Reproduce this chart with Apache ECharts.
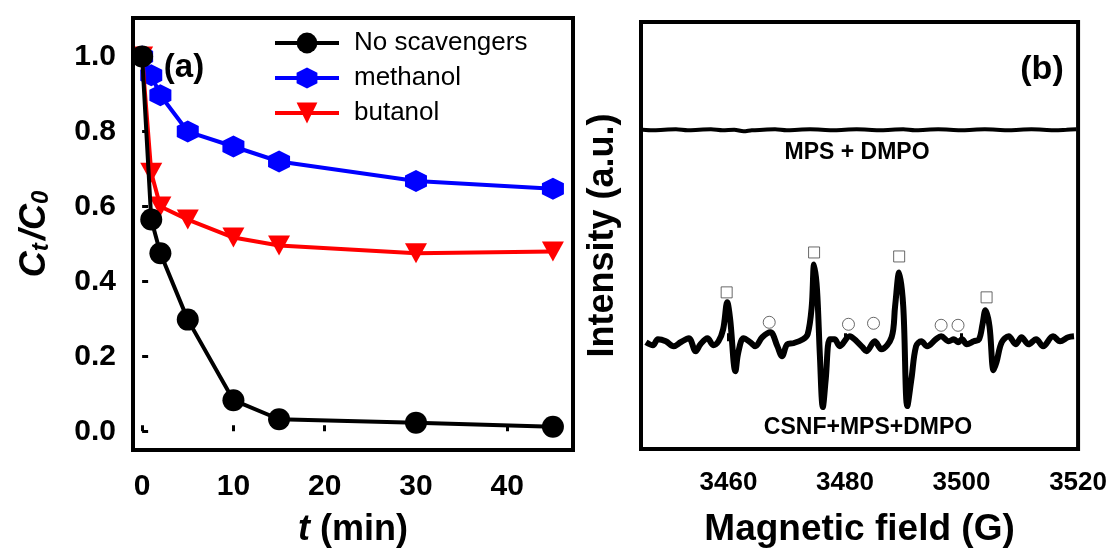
<!DOCTYPE html>
<html>
<head>
<meta charset="utf-8">
<script src="https://cdn.jsdelivr.net/npm/echarts@6/dist/echarts.min.js"></script>
<style>
  html, body { margin: 0; padding: 0; background: #fff; }
  #chart { width: 1110px; height: 553px; }
</style>
</head>
<body>
<div id="chart"></div>
<script>
// panel (a): scavenger test
const times = [0, 1, 2, 5, 10, 15, 30, 45];
const noScavengers = [1.0, 0.565, 0.475, 0.298, 0.083, 0.032, 0.023, 0.012];
const methanol = [1.0, 0.95, 0.897, 0.80, 0.76, 0.72, 0.668, 0.647];
const butanol = [1.0, 0.69, 0.60, 0.565, 0.517, 0.496, 0.475, 0.48];
const timeTicks = [0, 10, 20, 30, 40];
const ratioTicks = [0, 0.2, 0.4, 0.6, 0.8, 1.0];

// panel (b): EPR spectra, field (G) and intensity (a.u.)
const fieldTicks = [3460, 3480, 3500, 3520];
const mpsField = [3445.3, 3447, 3449, 3451, 3453, 3455, 3457, 3459, 3461, 3462.6, 3464, 3466, 3468, 3470,
  3472, 3474, 3476, 3478, 3480, 3482, 3484, 3486, 3488, 3490, 3492, 3494, 3496, 3498, 3500, 3502,
  3504, 3506, 3508, 3510, 3512, 3514, 3516, 3518, 3519.7];
const mpsInt = [212, 211.5, 212, 212.5, 211.5, 212, 212.5, 211.5, 212, 210.5, 211.5, 212, 212.5, 211.5,
  212, 212.5, 212, 211.5, 212, 212.5, 212, 211.5, 212, 212.5, 211.5, 212, 212.5, 212, 211.5, 212,
  212.5, 212, 211.5, 212, 212.5, 212, 211.5, 212, 212.5];
const csnfField = [3445.85, 3447.05, 3447.9, 3449.26, 3450.6, 3451.8, 3453.2, 3454.4, 3455.2, 3456.4,
  3457.4, 3458.3, 3459.1, 3459.8, 3460.3, 3461.2, 3461.7, 3462.6, 3463.75, 3464.6, 3465.8, 3467.2,
  3468.4, 3469.2, 3470.1, 3471.1, 3472.8, 3473.6, 3474.3, 3474.7, 3475.2, 3475.7, 3476.2, 3476.7,
  3477.4, 3478.2, 3479.1, 3480.8, 3482.0, 3483.0, 3483.7, 3485.1, 3486.25, 3488.0, 3488.6, 3489.3,
  3490.0, 3490.7, 3491.4, 3492.2, 3493.1, 3494.1, 3495.6, 3496.5, 3497.8, 3498.7, 3499.4, 3500.1,
  3500.9, 3502.1, 3503.0, 3503.6, 3504.1, 3504.8, 3505.5, 3506.0, 3506.9, 3508.1, 3509.3, 3510.3,
  3511.5, 3512.8, 3514.0, 3515.7, 3516.9, 3518.3, 3519.3];
const csnfInt = [-1, -4, 2, 0, -5, -1, 3, -10, -3, 3,
  -4, 0, 12, 39, 22, -30, -11, 3, -1, -5, 4, 9,
  -5, -15, -3, -2, 2, 7, 35, 77, 52, -15, -66, -38,
  2, 2, -5, 5, 0, -6, -10, 0, -8, 4, 35, 69,
  35, -65, -38, -5, 0, -5, 2, 5, 0, 2, -1, 2,
  -3, 0, 2, 17, 31, 15, -29, -21, -1, 5, -3, 4,
  -3, 2, -5, 5, 0, 4, 5];
// DMPO-OH quartet (squares) and other adduct lines (circles)
const squareField = [3459.7, 3474.7, 3489.3, 3504.3];
const squareInt = [49, 89, 85, 44];
const circleField = [3467.0, 3480.6, 3484.9, 3496.5, 3499.4];
const circleInt = [19, 17, 18, 16, 16];

const FONT = "'Liberation Sans', Arial, sans-serif";
const zip = (xs, ys) => xs.map((x, i) => [x, ys[i]]);
const hexagon = 'path://M0,-10L8.66,-5L8.66,5L0,10L-8.66,5L-8.66,-5Z';

const chart = echarts.init(document.getElementById('chart'), null, { renderer: 'canvas' });

const tickLabel = (size) => ({
  fontSize: size, fontWeight: 'bold', color: '#000', fontFamily: FONT
});

const option = {
  animation: false,
  backgroundColor: '#fff',
  grid: [
    { left: 133, top: 18, width: 440, height: 437, show: true, borderColor: '#000', borderWidth: 4, z: 5 },
    { left: 641, top: 22, width: 438, height: 428, show: true, borderColor: '#000', borderWidth: 4, z: 5 }
  ],
  legend: {
    left: 268, top: 25, orient: 'vertical', itemWidth: 64, itemHeight: 26, itemGap: 9,
    lineStyle: { width: 4 },
    textStyle: { fontSize: 26, color: '#000', fontFamily: FONT, padding: [0, 0, 0, 10] },
    data: ['No scavengers', 'methanol', 'butanol']
  },
  xAxis: [
    {
      gridIndex: 0, type: 'value', min: -1, max: 47.2,
      axisLine: { show: false }, splitLine: { show: false },
      axisTick: { inside: true, length: 6, lineStyle: { width: 3, color: '#000' }, customValues: timeTicks },
      axisLabel: Object.assign({ margin: 22, customValues: timeTicks }, tickLabel(30)),
      name: '{i|t} (min)', nameLocation: 'middle', nameGap: 62,
      nameTextStyle: {
        fontSize: 36, fontWeight: 'bold', color: '#000', fontFamily: FONT,
        rich: { i: { fontSize: 36, fontWeight: 'bold', fontStyle: 'italic', fontFamily: FONT } }
      }
    },
    {
      gridIndex: 1, type: 'value', min: 3445, max: 3520,
      axisLine: { show: false }, splitLine: { show: false },
      axisTick: { inside: true, length: 8, lineStyle: { width: 3, color: '#000' }, customValues: [3460, 3480, 3500] },
      axisLabel: Object.assign({ margin: 21, customValues: fieldTicks, formatter: v => String(v) }, tickLabel(26)),
      name: 'Magnetic field (G)', nameLocation: 'middle', nameGap: 62,
      nameTextStyle: { fontSize: 37, fontWeight: 'bold', color: '#000', fontFamily: FONT }
    }
  ],
  yAxis: [
    {
      gridIndex: 0, type: 'value', min: -0.05, max: 1.103,
      axisLine: { show: false }, splitLine: { show: false },
      axisTick: { inside: true, length: 6, lineStyle: { width: 3, color: '#000' }, customValues: ratioTicks },
      axisLabel: Object.assign({ margin: 17, customValues: ratioTicks, formatter: v => v.toFixed(1) }, tickLabel(30)),
      name: '{c|C}{s|t} {c|/C}{s|0}', nameLocation: 'middle', nameGap: 80,
      nameTextStyle: {
        color: '#000', fontFamily: FONT,
        rich: {
          c: { fontSize: 36, fontWeight: 'bold', fontStyle: 'italic', fontFamily: FONT, color: '#000' },
          s: { fontSize: 24, fontWeight: 'bold', fontStyle: 'italic', fontFamily: FONT, color: '#000',
               verticalAlign: 'bottom', padding: [12, 0, 0, 0] }
        }
      }
    },
    {
      gridIndex: 1, type: 'value', min: -108, max: 320,
      axisLine: { show: false }, splitLine: { show: false },
      axisTick: { show: false }, axisLabel: { show: false },
      name: 'Intensity (a.u.)', nameLocation: 'middle', nameGap: 20,
      nameTextStyle: { fontSize: 36, fontWeight: 'bold', color: '#000', fontFamily: FONT }
    }
  ],
  series: [
    {
      name: 'methanol', type: 'line', xAxisIndex: 0, yAxisIndex: 0, z: 2,
      data: zip(times, methanol), symbol: hexagon, symbolSize: 22, clip: false,
      lineStyle: { color: '#0000ff', width: 4 }, itemStyle: { color: '#0000ff' }
    },
    {
      name: 'butanol', type: 'line', xAxisIndex: 0, yAxisIndex: 0, z: 3,
      data: zip(times, butanol), symbol: 'triangle', symbolRotate: 180, symbolSize: [22, 20], clip: false,
      lineStyle: { color: '#ff0000', width: 4 }, itemStyle: { color: '#ff0000' }
    },
    {
      name: 'No scavengers', type: 'line', xAxisIndex: 0, yAxisIndex: 0, z: 4,
      data: zip(times, noScavengers), symbol: 'circle', symbolSize: 22, clip: false,
      lineStyle: { color: '#000', width: 4 }, itemStyle: { color: '#000' }
    },
    {
      name: 'MPS + DMPO', type: 'line', xAxisIndex: 1, yAxisIndex: 1,
      data: zip(mpsField, mpsInt), showSymbol: false, smooth: 0.3,
      lineStyle: { color: '#000', width: 4 }
    },
    {
      name: 'CSNF+MPS+DMPO', type: 'line', xAxisIndex: 1, yAxisIndex: 1,
      data: zip(csnfField, csnfInt), showSymbol: false, smooth: 0.35,
      lineStyle: { color: '#000', width: 6 }
    },
    {
      name: 'DMPO-OH', type: 'scatter', xAxisIndex: 1, yAxisIndex: 1,
      data: zip(squareField, squareInt), symbol: 'rect', symbolSize: 11,
      itemStyle: { color: '#fff', borderColor: '#444', borderWidth: 1 }
    },
    {
      name: 'other', type: 'scatter', xAxisIndex: 1, yAxisIndex: 1,
      data: zip(circleField, circleInt), symbol: 'circle', symbolSize: 12,
      itemStyle: { color: '#fff', borderColor: '#444', borderWidth: 1 }
    }
  ],
  graphic: [
    { type: 'text', x: 184, y: 68, style: { text: '(a)', font: 'bold 33px ' + FONT, fill: '#000', align: 'center', verticalAlign: 'middle' } },
    { type: 'text', x: 1042, y: 70, style: { text: '(b)', font: 'bold 34px ' + FONT, fill: '#000', align: 'center', verticalAlign: 'middle' } },
    { type: 'text', x: 857, y: 153, style: { text: 'MPS + DMPO', font: 'bold 23px ' + FONT, fill: '#000', align: 'center', verticalAlign: 'middle' } },
    { type: 'text', x: 868, y: 428, style: { text: 'CSNF+MPS+DMPO', font: 'bold 23px ' + FONT, fill: '#000', align: 'center', verticalAlign: 'middle' } }
  ]
};

chart.setOption(option);
</script>
</body>
</html>
